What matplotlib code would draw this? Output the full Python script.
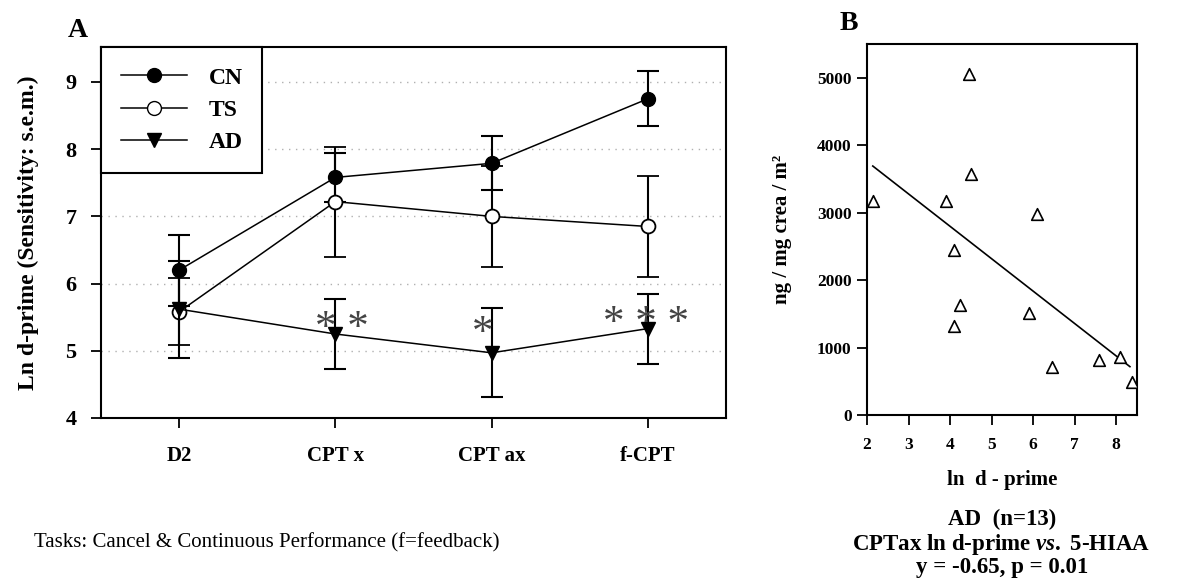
import matplotlib
matplotlib.use("Agg")
import matplotlib.pyplot as plt
import numpy as np
from matplotlib.lines import Line2D

plt.rcParams['font.family'] = ['Liberation Serif', 'DejaVu Serif']
plt.rcParams['mathtext.fontset'] = 'custom'
plt.rcParams['mathtext.rm'] = 'Liberation Serif:bold'
plt.rcParams['mathtext.it'] = 'Liberation Serif:italic:bold'

# ---- Panel A data ----
tasks = ['D2', 'CPT x', 'CPT ax', 'f-CPT']
cn_mean = [6.20, 7.58, 7.79, 8.75]
cn_err = [0.53, 0.37, 0.40, 0.41]
ts_mean = [5.58, 7.22, 7.00, 6.85]
ts_err = [0.50, 0.82, 0.75, 0.75]
ad_mean = [5.62, 5.25, 4.97, 5.33]
ad_err = [0.72, 0.52, 0.66, 0.52]
sig_labels = ['', '* *', '*', '* * *']

# ---- Panel B data ----
b_x = [2.14, 4.45, 4.50, 3.90, 6.10, 4.09, 4.25, 4.09, 5.90, 6.46, 7.58, 8.10, 8.38]
b_y = [3175, 5060, 3575, 3175, 2980, 2450, 1630, 1320, 1510, 710, 815, 860, 490]

fig = plt.figure(figsize=(11.77, 5.86), dpi=100)

# ================= Panel A =================
axA = fig.add_axes([0.0858, 0.2867, 0.531, 0.633])
x = np.arange(len(tasks))
for yv in [5, 6, 7, 8, 9]:
    axA.axhline(yv, color='#b0b0b0', lw=1.0, ls=(0, (1, 4)), zorder=0)

common = dict(color='black', lw=1.1, elinewidth=1.5, capsize=8, capthick=1.5, markersize=10)
axA.errorbar(x, cn_mean, yerr=cn_err, marker='o', mfc='black', mec='black', zorder=3, **common)
axA.errorbar(x, ts_mean, yerr=ts_err, marker='o', mfc='white', mec='black', mew=1.3, zorder=4, **common)
axA.errorbar(x, ad_mean, yerr=ad_err, marker='v', mfc='black', mec='black', zorder=5, **common)

sig_dx = [0, 0.04, -0.06, -0.01]
sig_dy = [0, 0.08, 0.28, 0.07]
for i, lab in enumerate(sig_labels):
    if lab:
        axA.text(x[i] + sig_dx[i], ad_mean[i] + sig_dy[i], lab, ha='center', va='center',
                 fontsize=31, color='#444444', zorder=6)

axA.set_xlim(-0.5, 3.5)
axA.set_ylim(4, 9.52)
axA.set_yticks([4, 5, 6, 7, 8, 9])
axA.set_xticks(x)
axA.set_xticklabels(tasks)
axA.tick_params(axis='both', direction='out', length=7.5, width=1.3)
axA.tick_params(axis='x', pad=13, labelsize=15)
axA.tick_params(axis='y', pad=10, labelsize=16)
for lab in axA.get_xticklabels() + axA.get_yticklabels():
    lab.set_fontweight('bold')
for s in axA.spines.values():
    s.set_linewidth(1.5)
axA.set_ylabel('Ln d-prime (Sensitivity: s.e.m.)', fontsize=17, fontweight='bold', labelpad=19)

handles = [
    Line2D([], [], color='black', lw=1.1, marker='o', mfc='black', mec='black', markersize=10),
    Line2D([], [], color='black', lw=1.1, marker='o', mfc='white', mec='black', markersize=10),
    Line2D([], [], color='black', lw=1.1, marker='v', mfc='black', mec='black', markersize=10),
]
leg = axA.legend(handles, ['CN', 'TS', 'AD'], loc='upper left', bbox_to_anchor=(0, 1),
                 borderaxespad=0, fancybox=False, edgecolor='black', framealpha=1,
                 prop={'size': 17, 'weight': 'bold'}, handlelength=2.8, handletextpad=0.9,
                 labelspacing=0.45, borderpad=0.85)
leg.get_frame().set_linewidth(1.5)

fig.text(0.066, 0.948, 'A', fontsize=20, fontweight='bold', ha='center', va='center')
fig.text(0.227, 0.073, 'Tasks: Cancel & Continuous Performance (f=feedback)', fontsize=15,
         ha='center', va='center')

# ================= Panel B =================
axB = fig.add_axes([0.7366, 0.2918, 0.2294, 0.633])
axB.scatter(b_x, b_y, marker='^', facecolors='white', edgecolors='black', s=70, linewidths=1.2, zorder=3)
coef = np.polyfit(b_x, b_y, 1)
xx = np.array([min(b_x), max(b_x) - 0.05])
axB.plot(xx, np.polyval(coef, xx), color='black', lw=1.2, zorder=2)
axB.set_xlim(2, 8.5)
axB.set_ylim(0, 5500)
axB.set_xticks([2, 3, 4, 5, 6, 7, 8])
axB.set_yticks([0, 1000, 2000, 3000, 4000, 5000])
axB.tick_params(axis='both', direction='out', length=7, width=1.3, labelsize=12.5)
axB.tick_params(axis='x', pad=9)
axB.tick_params(axis='y', pad=4)
for lab in axB.get_xticklabels() + axB.get_yticklabels():
    lab.set_fontweight('bold')
for s in axB.spines.values():
    s.set_linewidth(1.5)
axB.set_xlabel('ln  d - prime', fontsize=15, fontweight='bold', labelpad=12)
axB.set_ylabel('ng / mg crea / m²', fontsize=15, fontweight='bold', labelpad=18)

fig.text(0.721, 0.960, 'B', fontsize=20, fontweight='bold', ha='center', va='center')
fig.text(0.851, 0.114, 'AD  (n=13)', fontsize=16.5, fontweight='bold', ha='center', va='center')
fig.text(0.851, 0.070, r'CPTax ln d-prime $\it{vs.}$ 5-HIAA', fontsize=16.5, fontweight='bold',
         ha='center', va='center')
fig.text(0.851, 0.032, 'y = -0.65, p = 0.01', fontsize=16.5, fontweight='bold', ha='center', va='center')

fig.savefig('out.png', dpi=100)
